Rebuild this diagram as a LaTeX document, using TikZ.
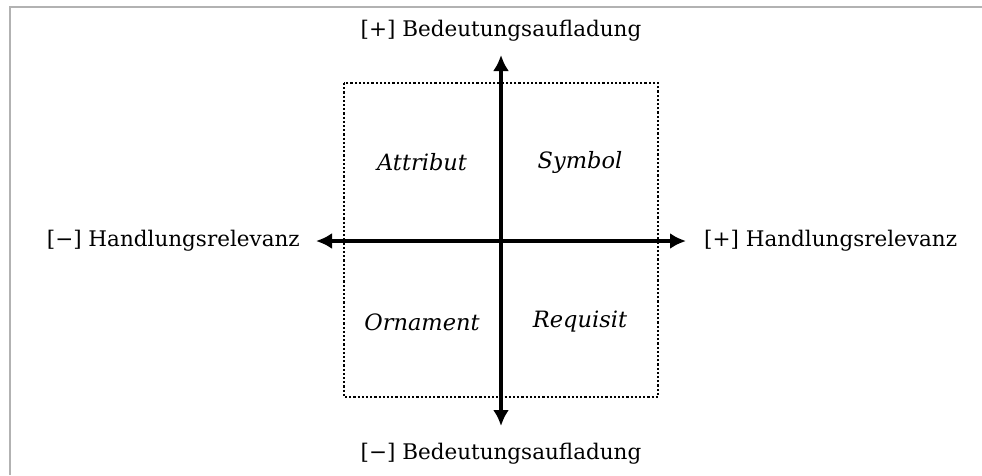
\documentclass[tikz,border=0pt]{standalone}
\usepackage{fontspec}
\setmainfont{DejaVu Serif}
\usetikzlibrary{arrows.meta}

\begin{document}
\begin{tikzpicture}[x=1pt, y=-1pt, font=\fontsize{21.5}{25}\selectfont,
  ax/.style={{Latex[length=16pt,width=16pt]}-{Latex[length=16pt,width=16pt]}, line width=4pt},
  quad/.style={font=\fontsize{22.5}{26}\selectfont\itshape},
  frame/.style={draw=gray!60, line width=2pt}]
\useasboundingbox (0,0) rectangle (982,475);
\draw[frame] (10,475) -- (10,7) -- (982,7);
\draw[line width=2.2pt, dash pattern=on 2.2pt off 2pt] (344,83) rectangle (658,397);
\coordinate (top) at (501,55);
\coordinate (bot) at (501,426);
\coordinate (lft) at (316,241);
\coordinate (rgt) at (686,241);
\draw[ax] (bot) -- (top);
\draw[ax] (lft) -- (rgt);
\node (bplus) at (501,31) {[+] Bedeutungsaufladung};
\node (bminus) at (501,454) {[−] Bedeutungsaufladung};
\node[anchor=east, inner sep=0pt] (hminus) at (300,241) {[−] Handlungsrelevanz};
\node[anchor=west, inner sep=0pt] (hplus) at (704,241) {[+] Handlungsrelevanz};
\foreach \x/\y/\n/\t in {422/162/attr/Attribut, 580/162/sym/Symbol, 422/322/orn/Ornament, 580/322/req/Requisit} { \node[quad] (\n) at (\x,\y) {\t}; }
\end{tikzpicture}
\end{document}
